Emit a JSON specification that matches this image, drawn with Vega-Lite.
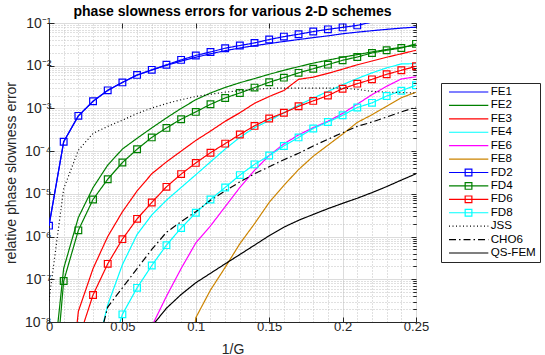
{
"$schema": "https://vega.github.io/schema/vega-lite/v6.json",
"autosize": {"type": "pad"},
"padding": {"left": 3, "top": 4, "right": 4, "bottom": 2},
"background": "white",
"data": {"values": [
{"s":"FE1","x":0,"y":1.8e-6},{"s":"FE1","x":0.01,"y":1.66e-4},{"s":"FE1","x":0.02,"y":6.7e-4},{"s":"FE1","x":0.03,"y":1.47e-3},{"s":"FE1","x":0.04,"y":2.65e-3},{"s":"FE1","x":0.05,"y":4.05e-3},{"s":"FE1","x":0.06,"y":6.0e-3},{"s":"FE1","x":0.07,"y":7.9e-3},{"s":"FE1","x":0.08,"y":1.02e-2},{"s":"FE1","x":0.09,"y":1.28e-2},{"s":"FE1","x":0.1,"y":1.58e-2},{"s":"FE1","x":0.11,"y":1.9e-2},{"s":"FE1","x":0.12,"y":2.25e-2},{"s":"FE1","x":0.13,"y":2.6e-2},{"s":"FE1","x":0.14,"y":2.95e-2},{"s":"FE1","x":0.15,"y":3.3e-2},{"s":"FE1","x":0.16,"y":3.7e-2},{"s":"FE1","x":0.17,"y":4.1e-2},{"s":"FE1","x":0.18,"y":4.55e-2},{"s":"FE1","x":0.19,"y":5.0e-2},{"s":"FE1","x":0.2,"y":5.6e-2},{"s":"FE1","x":0.21,"y":6.1e-2},{"s":"FE1","x":0.22,"y":6.6e-2},{"s":"FE1","x":0.23,"y":7.1e-2},{"s":"FE1","x":0.24,"y":7.6e-2},{"s":"FE1","x":0.25,"y":8.0e-2},
{"s":"FE2","x":0,"y":1e-10},{"s":"FE2","x":0.01,"y":1.8e-7},{"s":"FE2","x":0.02,"y":2.8e-6},{"s":"FE2","x":0.03,"y":1.4e-5},{"s":"FE2","x":0.04,"y":4.7e-5},{"s":"FE2","x":0.05,"y":1.12e-4},{"s":"FE2","x":0.06,"y":2.0e-4},{"s":"FE2","x":0.07,"y":3.5e-4},{"s":"FE2","x":0.08,"y":6.0e-4},{"s":"FE2","x":0.09,"y":1.0e-3},{"s":"FE2","x":0.1,"y":1.6e-3},{"s":"FE2","x":0.11,"y":2.3e-3},{"s":"FE2","x":0.12,"y":3.1e-3},{"s":"FE2","x":0.13,"y":4.0e-3},{"s":"FE2","x":0.14,"y":5.0e-3},{"s":"FE2","x":0.15,"y":6.3e-3},{"s":"FE2","x":0.16,"y":7.8e-3},{"s":"FE2","x":0.17,"y":9.5e-3},{"s":"FE2","x":0.18,"y":1.15e-2},{"s":"FE2","x":0.19,"y":1.35e-2},{"s":"FE2","x":0.2,"y":1.58e-2},{"s":"FE2","x":0.21,"y":1.82e-2},{"s":"FE2","x":0.22,"y":2.1e-2},{"s":"FE2","x":0.23,"y":2.4e-2},{"s":"FE2","x":0.24,"y":2.7e-2},{"s":"FE2","x":0.25,"y":3.0e-2},
{"s":"FE3","x":0.01,"y":1e-11},{"s":"FE3","x":0.02,"y":1.78e-8},{"s":"FE3","x":0.03,"y":1.78e-7},{"s":"FE3","x":0.04,"y":1e-6},{"s":"FE3","x":0.05,"y":3.8e-6},{"s":"FE3","x":0.06,"y":1.17e-5},{"s":"FE3","x":0.07,"y":2.95e-5},{"s":"FE3","x":0.08,"y":5.6e-5},{"s":"FE3","x":0.09,"y":1e-4},{"s":"FE3","x":0.1,"y":1.78e-4},{"s":"FE3","x":0.11,"y":2.95e-4},{"s":"FE3","x":0.12,"y":5.0e-4},{"s":"FE3","x":0.13,"y":7.9e-4},{"s":"FE3","x":0.14,"y":1.32e-3},{"s":"FE3","x":0.15,"y":1.9e-3},{"s":"FE3","x":0.16,"y":2.63e-3},{"s":"FE3","x":0.17,"y":4.8e-3},{"s":"FE3","x":0.18,"y":5.4e-3},{"s":"FE3","x":0.19,"y":6.6e-3},{"s":"FE3","x":0.2,"y":8.3e-3},{"s":"FE3","x":0.21,"y":1.05e-2},{"s":"FE3","x":0.22,"y":1.29e-2},{"s":"FE3","x":0.23,"y":1.58e-2},{"s":"FE3","x":0.24,"y":1.9e-2},{"s":"FE3","x":0.25,"y":2.3e-2},
{"s":"FE4","x":0.03,"y":1e-9},{"s":"FE4","x":0.04,"y":2.5e-8},{"s":"FE4","x":0.05,"y":2.2e-7},{"s":"FE4","x":0.06,"y":1.12e-6},{"s":"FE4","x":0.07,"y":3.2e-6},{"s":"FE4","x":0.08,"y":7.1e-6},{"s":"FE4","x":0.09,"y":1.41e-5},{"s":"FE4","x":0.1,"y":2.8e-5},{"s":"FE4","x":0.11,"y":5.6e-5},{"s":"FE4","x":0.12,"y":1.12e-4},{"s":"FE4","x":0.13,"y":2.1e-4},{"s":"FE4","x":0.14,"y":3.55e-4},{"s":"FE4","x":0.15,"y":5.2e-4},{"s":"FE4","x":0.16,"y":7.9e-4},{"s":"FE4","x":0.17,"y":1.2e-3},{"s":"FE4","x":0.18,"y":1.74e-3},{"s":"FE4","x":0.19,"y":2.5e-3},{"s":"FE4","x":0.2,"y":3.6e-3},{"s":"FE4","x":0.21,"y":5.0e-3},{"s":"FE4","x":0.22,"y":6.8e-3},{"s":"FE4","x":0.23,"y":8.9e-3},{"s":"FE4","x":0.24,"y":1.1e-2},{"s":"FE4","x":0.25,"y":1.12e-2},
{"s":"FE6","x":0.06,"y":1e-11},{"s":"FE6","x":0.07,"y":7.9e-9},{"s":"FE6","x":0.08,"y":4.0e-8},{"s":"FE6","x":0.09,"y":1.78e-7},{"s":"FE6","x":0.1,"y":7.1e-7},{"s":"FE6","x":0.11,"y":1.78e-6},{"s":"FE6","x":0.12,"y":5.0e-6},{"s":"FE6","x":0.13,"y":1.41e-5},{"s":"FE6","x":0.14,"y":3.55e-5},{"s":"FE6","x":0.15,"y":7.9e-5},{"s":"FE6","x":0.16,"y":1.48e-4},{"s":"FE6","x":0.17,"y":2.4e-4},{"s":"FE6","x":0.18,"y":3.55e-4},{"s":"FE6","x":0.19,"y":5.0e-4},{"s":"FE6","x":0.2,"y":7.6e-4},{"s":"FE6","x":0.21,"y":1.26e-3},{"s":"FE6","x":0.22,"y":2.1e-3},{"s":"FE6","x":0.23,"y":3.3e-3},{"s":"FE6","x":0.24,"y":4.9e-3},{"s":"FE6","x":0.25,"y":5.5e-3},
{"s":"FE8","x":0.09,"y":1e-11},{"s":"FE8","x":0.1,"y":1.26e-8},{"s":"FE8","x":0.11,"y":5.6e-8},{"s":"FE8","x":0.12,"y":1.9e-7},{"s":"FE8","x":0.13,"y":6.8e-7},{"s":"FE8","x":0.14,"y":2.0e-6},{"s":"FE8","x":0.15,"y":6.3e-6},{"s":"FE8","x":0.16,"y":1.58e-5},{"s":"FE8","x":0.17,"y":3.7e-5},{"s":"FE8","x":0.18,"y":7.6e-5},{"s":"FE8","x":0.19,"y":1.38e-4},{"s":"FE8","x":0.2,"y":2.5e-4},{"s":"FE8","x":0.21,"y":4.7e-4},{"s":"FE8","x":0.22,"y":7.1e-4},{"s":"FE8","x":0.23,"y":1.12e-3},{"s":"FE8","x":0.24,"y":1.78e-3},{"s":"FE8","x":0.25,"y":2.4e-3},
{"s":"FD2","x":0,"y":1.8e-6},{"s":"FD2","x":0.01,"y":1.66e-4},{"s":"FD2","x":0.02,"y":6.7e-4},{"s":"FD2","x":0.03,"y":1.47e-3},{"s":"FD2","x":0.04,"y":2.65e-3},{"s":"FD2","x":0.05,"y":4.07e-3},{"s":"FD2","x":0.06,"y":6.1e-3},{"s":"FD2","x":0.07,"y":8.0e-3},{"s":"FD2","x":0.08,"y":1.05e-2},{"s":"FD2","x":0.09,"y":1.37e-2},{"s":"FD2","x":0.1,"y":1.74e-2},{"s":"FD2","x":0.11,"y":2.1e-2},{"s":"FD2","x":0.12,"y":2.57e-2},{"s":"FD2","x":0.13,"y":2.97e-2},{"s":"FD2","x":0.14,"y":3.42e-2},{"s":"FD2","x":0.15,"y":4.1e-2},{"s":"FD2","x":0.16,"y":4.8e-2},{"s":"FD2","x":0.17,"y":5.46e-2},{"s":"FD2","x":0.18,"y":6.3e-2},{"s":"FD2","x":0.19,"y":7.1e-2},{"s":"FD2","x":0.2,"y":7.9e-2},{"s":"FD2","x":0.21,"y":8.8e-2},{"s":"FD2","x":0.22,"y":1.05e-1},
{"s":"FD4","x":0,"y":1e-11},{"s":"FD4","x":0.01,"y":9.1e-8},{"s":"FD4","x":0.02,"y":1.4e-6},{"s":"FD4","x":0.03,"y":7.4e-6},{"s":"FD4","x":0.04,"y":2.2e-5},{"s":"FD4","x":0.05,"y":5.4e-5},{"s":"FD4","x":0.06,"y":1.11e-4},{"s":"FD4","x":0.07,"y":2.1e-4},{"s":"FD4","x":0.08,"y":3.5e-4},{"s":"FD4","x":0.09,"y":5.6e-4},{"s":"FD4","x":0.1,"y":8.3e-4},{"s":"FD4","x":0.11,"y":1.25e-3},{"s":"FD4","x":0.12,"y":1.76e-3},{"s":"FD4","x":0.13,"y":2.3e-3},{"s":"FD4","x":0.14,"y":3.07e-3},{"s":"FD4","x":0.15,"y":4.1e-3},{"s":"FD4","x":0.16,"y":5.25e-3},{"s":"FD4","x":0.17,"y":6.8e-3},{"s":"FD4","x":0.18,"y":8.5e-3},{"s":"FD4","x":0.19,"y":1.06e-2},{"s":"FD4","x":0.2,"y":1.34e-2},{"s":"FD4","x":0.21,"y":1.6e-2},{"s":"FD4","x":0.22,"y":1.99e-2},{"s":"FD4","x":0.23,"y":2.3e-2},{"s":"FD4","x":0.24,"y":2.6e-2},{"s":"FD4","x":0.25,"y":3.25e-2},
{"s":"FD6","x":0.02,"y":3.8e-9},{"s":"FD6","x":0.03,"y":4.3e-8},{"s":"FD6","x":0.04,"y":2.3e-7},{"s":"FD6","x":0.05,"y":8.7e-7},{"s":"FD6","x":0.06,"y":2.6e-6},{"s":"FD6","x":0.07,"y":6.3e-6},{"s":"FD6","x":0.08,"y":1.46e-5},{"s":"FD6","x":0.09,"y":2.9e-5},{"s":"FD6","x":0.1,"y":5.3e-5},{"s":"FD6","x":0.11,"y":9.2e-5},{"s":"FD6","x":0.12,"y":1.5e-4},{"s":"FD6","x":0.13,"y":2.45e-4},{"s":"FD6","x":0.14,"y":3.9e-4},{"s":"FD6","x":0.15,"y":5.8e-4},{"s":"FD6","x":0.16,"y":7.9e-4},{"s":"FD6","x":0.17,"y":1.12e-3},{"s":"FD6","x":0.18,"y":1.5e-3},{"s":"FD6","x":0.19,"y":2.0e-3},{"s":"FD6","x":0.2,"y":2.9e-3},{"s":"FD6","x":0.21,"y":3.8e-3},{"s":"FD6","x":0.22,"y":4.8e-3},{"s":"FD6","x":0.23,"y":6.3e-3},{"s":"FD6","x":0.24,"y":7.8e-3},{"s":"FD6","x":0.25,"y":9.7e-3},
{"s":"FD8","x":0.04,"y":1.12e-9},{"s":"FD8","x":0.05,"y":1.51e-8},{"s":"FD8","x":0.06,"y":6.3e-8},{"s":"FD8","x":0.07,"y":2.1e-7},{"s":"FD8","x":0.08,"y":6.3e-7},{"s":"FD8","x":0.09,"y":1.58e-6},{"s":"FD8","x":0.1,"y":3.6e-6},{"s":"FD8","x":0.11,"y":7.4e-6},{"s":"FD8","x":0.12,"y":1.41e-5},{"s":"FD8","x":0.13,"y":2.75e-5},{"s":"FD8","x":0.14,"y":4.9e-5},{"s":"FD8","x":0.15,"y":7.9e-5},{"s":"FD8","x":0.16,"y":1.32e-4},{"s":"FD8","x":0.17,"y":2.1e-4},{"s":"FD8","x":0.18,"y":3.4e-4},{"s":"FD8","x":0.19,"y":4.8e-4},{"s":"FD8","x":0.2,"y":6.9e-4},{"s":"FD8","x":0.21,"y":1.05e-3},{"s":"FD8","x":0.22,"y":1.35e-3},{"s":"FD8","x":0.23,"y":1.95e-3},{"s":"FD8","x":0.24,"y":2.6e-3},{"s":"FD8","x":0.25,"y":3.5e-3},
{"s":"JSS","x":0,"y":3.2e-8},{"s":"JSS","x":0.01,"y":1.32e-5},{"s":"JSS","x":0.02,"y":1.05e-4},{"s":"JSS","x":0.03,"y":2.6e-4},{"s":"JSS","x":0.04,"y":3.8e-4},{"s":"JSS","x":0.05,"y":5.3e-4},{"s":"JSS","x":0.06,"y":7.6e-4},{"s":"JSS","x":0.07,"y":1.02e-3},{"s":"JSS","x":0.08,"y":1.3e-3},{"s":"JSS","x":0.09,"y":1.6e-3},{"s":"JSS","x":0.1,"y":1.9e-3},{"s":"JSS","x":0.11,"y":2.15e-3},{"s":"JSS","x":0.12,"y":2.4e-3},{"s":"JSS","x":0.13,"y":2.6e-3},{"s":"JSS","x":0.14,"y":2.8e-3},{"s":"JSS","x":0.15,"y":2.95e-3},{"s":"JSS","x":0.16,"y":3.0e-3},{"s":"JSS","x":0.17,"y":3.0e-3},{"s":"JSS","x":0.18,"y":3.0e-3},{"s":"JSS","x":0.19,"y":3.0e-3},{"s":"JSS","x":0.2,"y":3.0e-3},{"s":"JSS","x":0.21,"y":2.8e-3},{"s":"JSS","x":0.22,"y":2.5e-3},{"s":"JSS","x":0.23,"y":2.4e-3},{"s":"JSS","x":0.24,"y":2.35e-3},{"s":"JSS","x":0.25,"y":2.3e-3},
{"s":"CHO6","x":0.03,"y":1e-9},{"s":"CHO6","x":0.04,"y":2.24e-8},{"s":"CHO6","x":0.05,"y":6.3e-8},{"s":"CHO6","x":0.06,"y":1.78e-7},{"s":"CHO6","x":0.07,"y":5.0e-7},{"s":"CHO6","x":0.08,"y":1.26e-6},{"s":"CHO6","x":0.09,"y":2.24e-6},{"s":"CHO6","x":0.1,"y":3.8e-6},{"s":"CHO6","x":0.11,"y":7.1e-6},{"s":"CHO6","x":0.12,"y":1.17e-5},{"s":"CHO6","x":0.13,"y":1.9e-5},{"s":"CHO6","x":0.14,"y":2.95e-5},{"s":"CHO6","x":0.15,"y":4.3e-5},{"s":"CHO6","x":0.16,"y":6.3e-5},{"s":"CHO6","x":0.17,"y":8.9e-5},{"s":"CHO6","x":0.18,"y":1.32e-4},{"s":"CHO6","x":0.19,"y":1.9e-4},{"s":"CHO6","x":0.2,"y":2.7e-4},{"s":"CHO6","x":0.21,"y":3.8e-4},{"s":"CHO6","x":0.22,"y":4.8e-4},{"s":"CHO6","x":0.23,"y":6.3e-4},{"s":"CHO6","x":0.24,"y":8.3e-4},{"s":"CHO6","x":0.25,"y":1.07e-3},
{"s":"QS-FEM","x":0.06,"y":1e-11},{"s":"QS-FEM","x":0.07,"y":7.9e-9},{"s":"QS-FEM","x":0.08,"y":2.1e-8},{"s":"QS-FEM","x":0.09,"y":4.4e-8},{"s":"QS-FEM","x":0.1,"y":8.3e-8},{"s":"QS-FEM","x":0.11,"y":1.38e-7},{"s":"QS-FEM","x":0.12,"y":2.3e-7},{"s":"QS-FEM","x":0.13,"y":3.8e-7},{"s":"QS-FEM","x":0.14,"y":6.3e-7},{"s":"QS-FEM","x":0.15,"y":1.05e-6},{"s":"QS-FEM","x":0.16,"y":1.66e-6},{"s":"QS-FEM","x":0.17,"y":2.4e-6},{"s":"QS-FEM","x":0.18,"y":3.3e-6},{"s":"QS-FEM","x":0.19,"y":4.5e-6},{"s":"QS-FEM","x":0.2,"y":6.0e-6},{"s":"QS-FEM","x":0.21,"y":7.9e-6},{"s":"QS-FEM","x":0.22,"y":1.07e-5},{"s":"QS-FEM","x":0.23,"y":1.48e-5},{"s":"QS-FEM","x":0.24,"y":2.1e-5},{"s":"QS-FEM","x":0.25,"y":2.95e-5}
]},
"spacing": 25,
"bounds": "flush",
"center": true,
"hconcat": [
{
"width": 367, "height": 299,
"title": {"text": "phase slowness errors for various 2-D schemes", "fontSize": 14, "fontWeight": "bold", "color": "#000000", "anchor": "middle", "frame": "group", "baseline": "bottom", "offset": 0, "dy": 17, "font": "Liberation Sans"},
"resolve": {"axis": {"x": "independent", "y": "independent"}},
"layer": [
{
"mark": {"type": "line", "strokeWidth": 1.2, "clip": true},
"encoding": {
"x": {"field": "x", "type": "quantitative", "scale": {"domain": [0, 0.25], "nice": false, "zero": false},
 "axis": {"title": "1/G", "values": [0, 0.05, 0.1, 0.15, 0.2, 0.25], "format": "~g",
  "labelOverlap": false, "labelFlush": false,
  "labelFontSize": 13, "titleFontSize": 14, "labelPadding": 3, "titlePadding": 9,
  "grid": true, "gridColor": "#dcdcdc", "tickSize": -5}},
"y": {"field": "y", "type": "quantitative", "scale": {"type": "log", "domain": [1e-8, 0.1], "nice": false},
 "axis": {"title": "relative phase slowness error",
  "values": [1e-8, 1e-7, 1e-6, 1e-5, 1e-4, 1e-3, 1e-2, 0.1],
  "labelExpr": "'10⁻' + substring('⁰¹²³⁴⁵⁶⁷⁸⁹', -round(log(datum.value)/LN10), -round(log(datum.value)/LN10) + 1)",
  "labelOverlap": false, "labelFlush": false,
  "labelFontSize": 14, "titleFontSize": 14, "labelPadding": 3, "titlePadding": 6,
  "grid": true, "gridColor": "#dcdcdc", "tickSize": -5}},
"color": {"field": "s", "type": "nominal", "legend": null,
 "scale": {"domain": ["FE1","FE2","FE3","FE4","FE6","FE8","FD2","FD4","FD6","FD8","JSS","CHO6","QS-FEM"],
  "range": ["#0000ff","#008000","#ff0000","#00ffff","#ff00ff","#cc8400","#0000ff","#008000","#ff0000","#00ffff","#000000","#000000","#000000"]}},
"strokeDash": {"field": "s", "type": "nominal", "legend": null,
 "scale": {"domain": ["FE1","FE2","FE3","FE4","FE6","FE8","FD2","FD4","FD6","FD8","JSS","CHO6","QS-FEM"],
  "range": [[1,0],[1,0],[1,0],[1,0],[1,0],[1,0],[1,0],[1,0],[1,0],[1,0],[1,2.5],[7,3,1.5,3],[1,0]]}}
}
},
{
"transform": [{"filter": "indexof(datum.s, 'FD') === 0 && datum.y <= 0.1"}],
"mark": {"type": "point", "shape": "square", "filled": false, "size": 45, "strokeWidth": 1.2, "clip": true, "opacity": 1},
"encoding": {
"x": {"field": "x", "type": "quantitative",
 "axis": {"title": null, "labels": false, "ticks": false, "domain": false, "grid": true, "gridColor": "#c0c0c0", "gridDash": [1, 2],
  "values": [0.01,0.02,0.03,0.04,0.06,0.07,0.08,0.09,0.11,0.12,0.13,0.14,0.16,0.17,0.18,0.19,0.21,0.22,0.23,0.24]}},
"y": {"field": "y", "type": "quantitative",
 "axis": {"title": null, "labels": false, "ticks": true, "tickSize": -3, "domain": false, "grid": true, "gridColor": "#c0c0c0", "gridDash": [1, 2],
  "values": [2e-8,3e-8,4e-8,5e-8,6e-8,7e-8,8e-8,9e-8,2e-7,3e-7,4e-7,5e-7,6e-7,7e-7,8e-7,9e-7,2e-6,3e-6,4e-6,5e-6,6e-6,7e-6,8e-6,9e-6,2e-5,3e-5,4e-5,5e-5,6e-5,7e-5,8e-5,9e-5,2e-4,3e-4,4e-4,5e-4,6e-4,7e-4,8e-4,9e-4,2e-3,3e-3,4e-3,5e-3,6e-3,7e-3,8e-3,9e-3,2e-2,3e-2,4e-2,5e-2,6e-2,7e-2,8e-2,9e-2]}},
"color": {"field": "s", "type": "nominal", "legend": null}
}
},
{
"transform": [{"filter": "false"}],
"mark": {"type": "point"},
"encoding": {
"x": {"field": "x", "type": "quantitative",
 "axis": {"orient": "top", "title": null, "labels": false, "domain": false, "grid": false, "tickSize": -5, "values": [0, 0.05, 0.1, 0.15, 0.2, 0.25]}},
"y": {"field": "y", "type": "quantitative",
 "axis": {"orient": "right", "title": null, "labels": false, "domain": false, "grid": false, "tickSize": -5, "values": [1e-8, 1e-7, 1e-6, 1e-5, 1e-4, 1e-3, 1e-2, 0.1]}}
}
},
{
"transform": [{"filter": "false"}],
"mark": {"type": "point"},
"encoding": {
"x": {"field": "x", "type": "quantitative", "axis": null},
"y": {"field": "y", "type": "quantitative",
 "axis": {"orient": "right", "title": null, "labels": false, "domain": false, "grid": false, "tickSize": -3,
  "values": [2e-8,3e-8,4e-8,5e-8,6e-8,7e-8,8e-8,9e-8,2e-7,3e-7,4e-7,5e-7,6e-7,7e-7,8e-7,9e-7,2e-6,3e-6,4e-6,5e-6,6e-6,7e-6,8e-6,9e-6,2e-5,3e-5,4e-5,5e-5,6e-5,7e-5,8e-5,9e-5,2e-4,3e-4,4e-4,5e-4,6e-4,7e-4,8e-4,9e-4,2e-3,3e-3,4e-3,5e-3,6e-3,7e-3,8e-3,9e-3,2e-2,3e-2,4e-2,5e-2,6e-2,7e-2,8e-2,9e-2]}}
}
}
]
},
{
"width": 99, "height": 179,
"transform": [{"aggregate": [{"op": "count", "as": "n"}], "groupby": ["s"]}],
"encoding": {
"y": {"field": "s", "type": "nominal", "sort": ["FE1","FE2","FE3","FE4","FE6","FE8","FD2","FD4","FD6","FD8","JSS","CHO6","QS-FEM"], "scale": {"type": "point", "padding": 0.67}, "axis": null}
},
"layer": [
{
"mark": {"type": "rule", "strokeWidth": 1.2},
"encoding": {
"x": {"datum": 0.081, "type": "quantitative", "scale": {"domain": [0, 1], "nice": false, "zero": false}, "axis": null},
"x2": {"datum": 0.478},
"color": {"field": "s", "type": "nominal", "legend": null,
 "scale": {"domain": ["FE1","FE2","FE3","FE4","FE6","FE8","FD2","FD4","FD6","FD8","JSS","CHO6","QS-FEM"],
  "range": ["#0000ff","#008000","#ff0000","#00ffff","#ff00ff","#cc8400","#0000ff","#008000","#ff0000","#00ffff","#000000","#000000","#000000"]}},
"strokeDash": {"field": "s", "type": "nominal", "legend": null,
 "scale": {"domain": ["FE1","FE2","FE3","FE4","FE6","FE8","FD2","FD4","FD6","FD8","JSS","CHO6","QS-FEM"],
  "range": [[1,0],[1,0],[1,0],[1,0],[1,0],[1,0],[1,0],[1,0],[1,0],[1,0],[1,2.5],[7,3,1.5,3],[1,0]]}}
}
},
{
"transform": [{"filter": "indexof(datum.s, 'FD') === 0"}],
"mark": {"type": "point", "shape": "square", "filled": false, "size": 45, "strokeWidth": 1.2, "opacity": 1},
"encoding": {
"x": {"datum": 0.278, "type": "quantitative"},
"color": {"field": "s", "type": "nominal", "legend": null}
}
},
{
"mark": {"type": "text", "align": "left", "baseline": "middle", "fontSize": 11.6, "font": "Liberation Sans", "color": "#000000"},
"encoding": {
"x": {"datum": 0.502, "type": "quantitative"},
"text": {"field": "s", "type": "nominal"}
}
}
]
}
],
"config": {
"font": "Liberation Sans",
"view": {"stroke": "#262626", "strokeWidth": 1},
"axis": {"labelFont": "Liberation Sans", "titleFont": "Liberation Sans", "labelColor": "#262626", "titleColor": "#262626", "domainColor": "#262626", "tickColor": "#262626", "titleFontWeight": "normal"}
}
}
